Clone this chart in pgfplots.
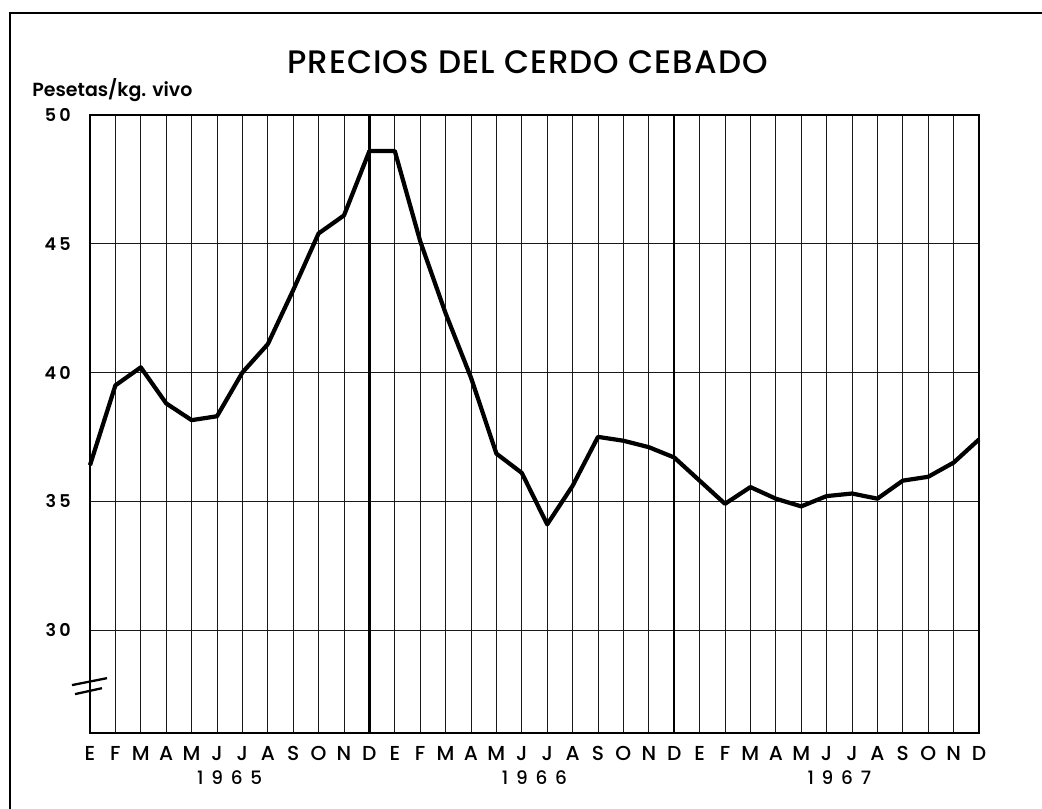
\documentclass[border=0pt]{standalone}
\usepackage{pgfplots}
\pgfplotsset{compat=1.18}
\usepackage{fontspec}
\setmainfont{Poppins}
\newfontfamily\titlefont{Poppins Medium}[LetterSpace=3]
\newfontfamily\medfont{Poppins Medium}
\newfontfamily\spaced{Poppins SemiBold}[LetterSpace=18]
\newfontfamily\yearfont{Poppins Medium}[LetterSpace=42]
\newfontfamily\labelfont{Poppins SemiBold}
\pgfplotstableread{
m v
0 36.4
1 39.5
2 40.2
3 38.8
4 38.15
5 38.3
6 40.0
7 41.1
8 43.2
9 45.4
10 46.1
11 48.6
12 48.6
13 45.1
14 42.3
15 39.8
16 36.85
17 36.1
18 34.1
19 35.6
20 37.5
21 37.35
22 37.1
23 36.7
24 35.8
25 34.9
26 35.55
27 35.1
28 34.8
29 35.2
30 35.3
31 35.1
32 35.8
33 35.95
34 36.5
35 37.4
}\prices
\begin{document}
\begin{tikzpicture}
\begin{axis}[
  name=ax,
  scale only axis,
  width=17.78cm, height=12.36cm,
  xmin=0, xmax=35, ymin=26, ymax=50,
  xtick={0,...,35},
  xticklabels={E,F,M,A,M,J,J,A,S,O,N,D,E,F,M,A,M,J,J,A,S,O,N,D,E,F,M,A,M,J,J,A,S,O,N,D},
  ytick={30,35,40,45,50},
  major tick length=0pt,
  xmajorgrids, ymajorgrids,
  grid style={line width=0.55pt, black!90},
  axis line style={line width=0.8pt},
  xticklabel style={anchor=north, inner sep=0pt, yshift=-0.26cm, font=\medfont\fontsize{11.5}{12}\selectfont},
  yticklabel style={anchor=east, inner sep=0pt, xshift=-0.38cm, font=\spaced\fontsize{10}{12}\selectfont},
  /pgf/number format/assume math mode=true,
  clip=false,
]
\addplot[black, line width=2.4pt, line join=round] table[x=m, y=v] {\prices};
\draw[line width=1.3pt] (axis cs:11,26) -- (axis cs:11,50);
\draw[line width=1.3pt] (axis cs:23,26) -- (axis cs:23,50);
\draw[line width=1.6pt] (axis cs:0,50) -- (axis cs:0,26) -- (axis cs:35,26);
\draw[line width=1.2pt] (axis cs:35,26) -- (axis cs:35,50);
% axis break
\draw[line width=1.3pt] (axis cs:-0.71,27.86) -- (axis cs:0.67,28.13);
\draw[line width=1.3pt] (axis cs:-0.59,27.51) -- (axis cs:0.47,27.74);
\node[anchor=base, font=\yearfont\fontsize{10.5}{12}\selectfont] at ([yshift=-1.02cm]axis cs:5.5,26) {1965};
\node[anchor=base, font=\yearfont\fontsize{10.5}{12}\selectfont] at ([yshift=-1.02cm]axis cs:17.5,26) {1966};
\node[anchor=base, font=\yearfont\fontsize{10.5}{12}\selectfont] at ([yshift=-1.02cm]axis cs:29.5,26) {1967};
\end{axis}
\node[anchor=base, font=\titlefont\fontsize{18.5}{22}\selectfont] at ([shift={(-0.14cm,0.82cm)}]ax.north) {PRECIOS DEL CERDO CEBADO};
\node[anchor=base west, inner sep=0pt, font=\labelfont\fontsize{10.8}{12}\selectfont] at ([shift={(-1.16cm,0.36cm)}]ax.north west) {Pesetas/kg. vivo};
\draw[line width=1.6pt] ([shift={(-1.6cm,-1.7cm)}]ax.south west) -- ([shift={(-1.6cm,2.04cm)}]ax.north west) -- ([shift={(1.5cm,2.04cm)}]ax.north east);
\pgfresetboundingbox
\path[use as bounding box] ([shift={(-1.8cm,-1.5cm)}]ax.south west) rectangle ([shift={(1.26cm,2.3cm)}]ax.north east);
\end{tikzpicture}
\end{document}
